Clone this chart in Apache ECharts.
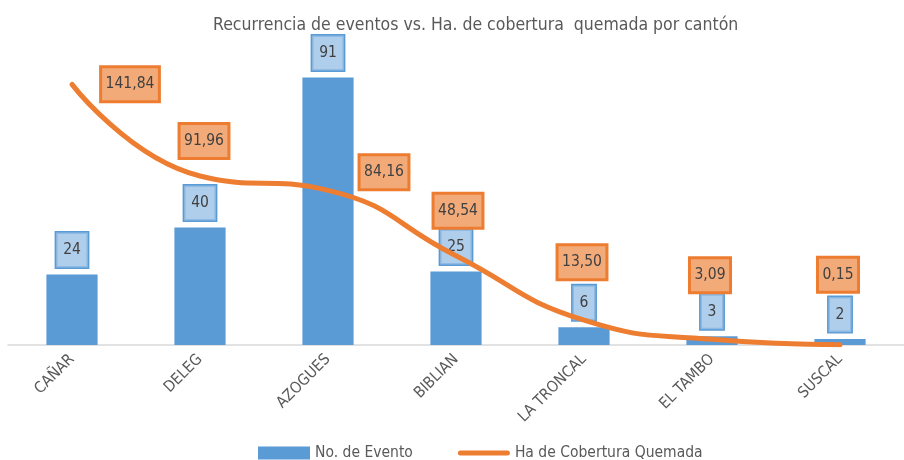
<!DOCTYPE html>
<html lang="es">
<head>
	<meta charset="UTF-8">
	<title>Recurrencia de eventos vs. Ha. de cobertura quemada</title>
	<script src="https://cdn.jsdelivr.net/npm/echarts@6/dist/echarts.min.js"></script>
	<style>
		html, body { margin: 0; padding: 0; background: #fff; }
		#chart { width: 904px; height: 460px; }
	</style>
</head>
<body>
	<div id="chart"></div>
	<script>
		// 数据
		var cantones = ['CAÑAR', 'DELEG', 'AZOGUES', 'BIBLIAN', 'LA TRONCAL', 'EL TAMBO', 'SUSCAL'];
		var eventos = [24, 40, 91, 25, 6, 3, 2];
		var hectareas = [141.84, 91.96, 84.16, 48.54, 13.50, 3.09, 0.15];

		// 标签偏移 (px, relative to point)
		var lineLabelShift = [[58, 0], [4, -35], [56, -18], [2, -45], [-2, -58], [-2, -64], [-2, -70]];

		var FONT = "'DejaVu Sans Condensed', 'Liberation Sans Narrow', sans-serif";
		var TXT = '#595959';

		function fmt(v) {
			return v.toFixed(2).replace('.', ',');
		}

		var lineData = hectareas.map(function (v, i) {
			return {
				value: v,
				label: { offset: lineLabelShift[i] }
			};
		});

		var chart = echarts.init(document.getElementById('chart'));
		chart.setOption({
			animation: false,
			textStyle: { fontFamily: FONT },
			title: {
				text: 'Recurrencia de eventos vs. Ha. de cobertura  quemada por cantón',
				left: 208,
				top: 11,
				textStyle: { fontFamily: FONT, fontSize: 17.5, fontWeight: 'normal', color: TXT }
			},
			legend: {
				left: 253,
				top: 440,
				itemWidth: 52,
				itemHeight: 13,
				itemGap: 45,
				textStyle: { fontFamily: FONT, fontSize: 15.5, color: TXT },
				data: [
					{ name: 'No. de Evento', icon: 'rect' },
					{ name: 'Ha de Cobertura Quemada', icon: 'path://M2.5,0L49.5,0A2.5,2.5,0,0,1,49.5,5L2.5,5A2.5,2.5,0,0,1,2.5,0Z' }
				]
			},
			grid: { left: 8, right: -13, top: 51, bottom: 115 },
			xAxis: {
				type: 'category',
				data: cantones,
				axisLine: { lineStyle: { color: '#d9d9d9', width: 1.5 } },
				axisTick: { show: false },
				axisLabel: {
					rotate: 45,
					margin: 12,
					color: TXT,
					fontFamily: FONT,
					fontSize: 15.5
				}
			},
			yAxis: [
				{ type: 'value', min: 0, max: 100, show: false },
				{ type: 'value', min: 0, max: 160, show: false }
			],
			series: [
				{
					name: 'No. de Evento',
					type: 'bar',
					data: eventos,
					barWidth: '40%',
					itemStyle: { color: '#5b9bd5' },
					label: {
						show: true,
						position: 'top',
						distance: 7,
						color: '#404040',
						fontFamily: FONT,
						fontSize: 15.5,
						lineHeight: 19,
						padding: [8, 7, 8, 7],
						backgroundColor: 'rgba(155,194,230,0.8)',
						borderColor: '#5b9bd5',
						borderWidth: 1.5
					}
				},
				{
					name: 'Ha de Cobertura Quemada',
					type: 'line',
					yAxisIndex: 1,
					data: lineData,
					smooth: 0.5,
					symbol: 'circle',
					symbolSize: 0.1,
					showSymbol: true,
					itemStyle: { color: '#ed7d31' },
					lineStyle: { color: '#ed7d31', width: 5, cap: 'round' },
					label: {
						show: true,
						position: 'inside',
						formatter: function (p) { return fmt(p.value); },
						color: '#404040',
						fontFamily: FONT,
						fontSize: 15.5,
						lineHeight: 19,
						padding: [8, 5, 8, 5],
						backgroundColor: 'rgba(237,125,49,0.65)',
						borderColor: '#ed7d31',
						borderWidth: 1.5
					}
				}
			]
		});
	</script>
</body>
</html>
